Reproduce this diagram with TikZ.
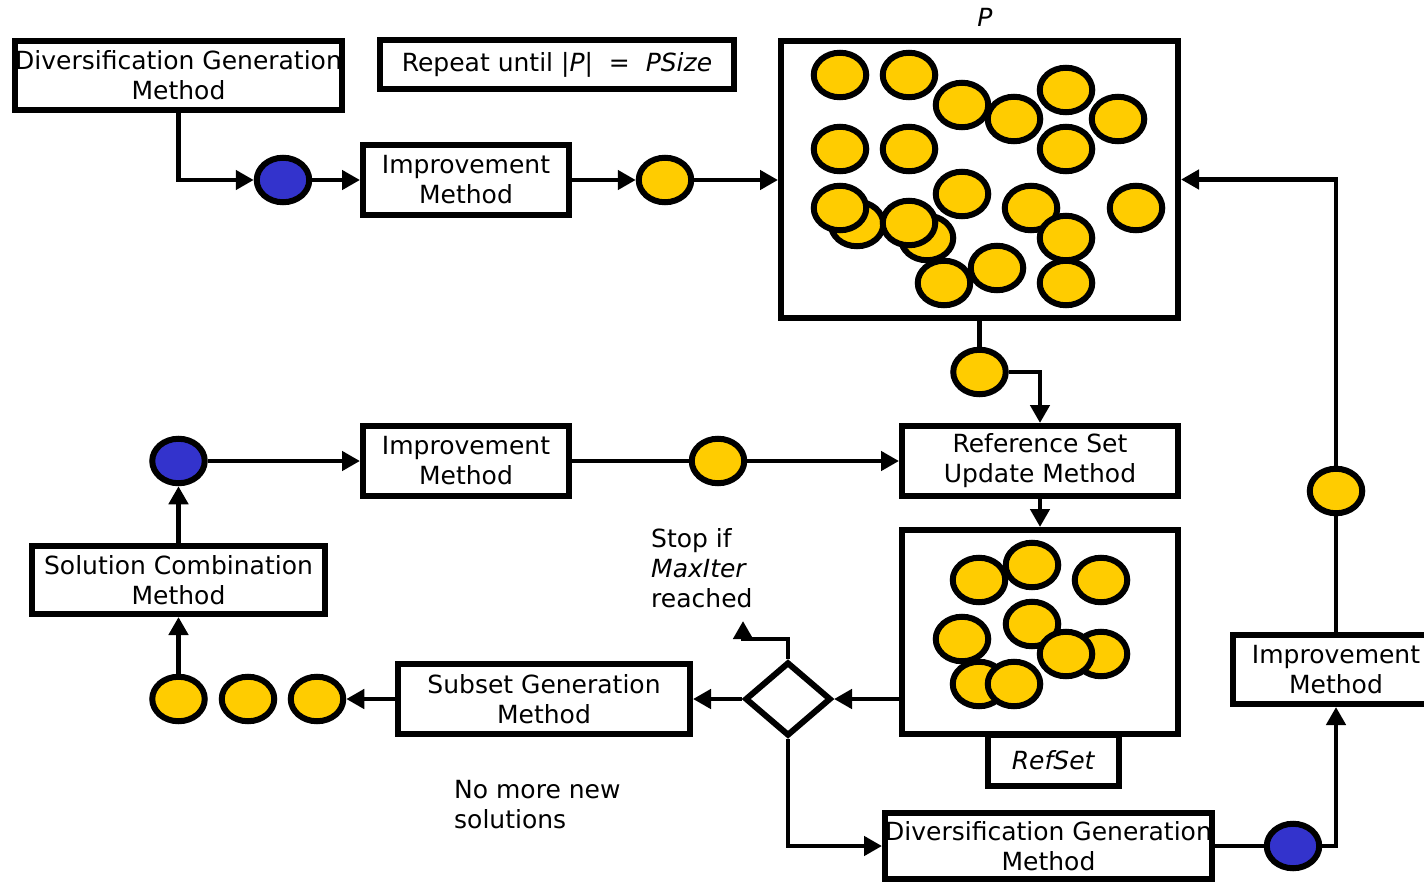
\documentclass[tikz,border=0pt]{standalone}
\usepackage{fontspec}
\setmainfont{DejaVu Sans}
\usetikzlibrary{arrows.meta,shapes.geometric,calc}
\definecolor{solY}{RGB}{255,204,0}
\definecolor{solB}{RGB}{51,51,204}
\begin{document}
\begin{tikzpicture}[x=1pt,y=-1pt,
  every node/.style={font=\fontsize{25}{30}\selectfont},
  box/.style={draw, line width=6pt, rectangle, inner sep=0pt, align=center, fill=white},
  sol/.style={draw, line width=6pt, ellipse, fill=solY, minimum width=52.5pt, minimum height=44.5pt, inner sep=0pt},
  solb/.style={sol, fill=solB},
  conn/.style={line width=4.8pt},
  arr/.style={conn, -{Triangle[length=18pt,width=19pt]}},
  lbl/.style={inner sep=0pt, align=left, anchor=west}
]
\useasboundingbox (0,0) rectangle (1424,883);
\clip (0,0) rectangle (1424,883);

% boxes
\node[box, minimum width=327pt, minimum height=69pt] (dgm1) at (178.5,75.5) {Diversification Generation\\Method};
\node[box, minimum width=354pt, minimum height=49pt] (rep) at (557,64.5) {Repeat until |\textit{P}|\ \ =\ \ \textit{PSize}};
\node[box, minimum width=206pt, minimum height=70pt] (imp1) at (466,180) {Improvement\\Method};
\node[box, minimum width=397pt, minimum height=277pt] (P) at (979.5,179.5) {};
\node[inner sep=0pt] (plabel) at (985,17) {\textit{P}};
\node[box, minimum width=276pt, minimum height=70pt] (rsu) at (1040,461) {Reference Set\\Update Method};
\node[box, minimum width=206pt, minimum height=70pt] (imp2) at (466,461) {Improvement\\Method};
\node[box, minimum width=293pt, minimum height=68pt] (scm) at (178.5,580) {Solution Combination\\Method};
\node[box, minimum width=292pt, minimum height=70pt] (sgm) at (544,699) {Subset Generation\\Method};
\node[box, minimum width=276pt, minimum height=204pt] (refset) at (1040,632) {};
\node[box, minimum width=131pt, minimum height=51pt] (reflabel) at (1053.5,760.5) {\textit{RefSet}};
\node[box, minimum width=327pt, minimum height=66pt] (dgm2) at (1048.5,846) {Diversification Generation\\Method};
\node[box, minimum width=206pt, minimum height=69pt] (imp3) at (1336,669.5) {Improvement\\Method};
\node[draw, line width=6pt, diamond, minimum width=86pt, minimum height=74pt, inner sep=0pt, fill=white] (dia) at (788,699) {};

% free labels
\node[lbl] (stop) at (651,568) {Stop if\\\textit{MaxIter}\\reached};
\node[lbl] (nomore) at (454,804.5) {No more new\\solutions};

% solutions in P
\foreach \x/\y [count=\i] in {840/75, 909/75, 962/105, 1014/119, 1066/90, 1118/119,
  840/149, 909/149, 1066/149, 962/194, 857/224, 840/208, 927/238, 909/223,
  1031/208, 1066/238, 1136/208, 944/283, 997/268, 1066/283}
  \node[sol] (p\i) at (\x,\y) {};

% solutions in RefSet
\foreach \x/\y [count=\i] in {979/580, 1032/565, 1101/580, 962/639, 1032/624,
  1101/654, 1066/654, 979/684, 1014/684}
  \node[sol] (r\i) at (\x,\y) {};

% single solutions
\node[solb] (b1) at (283,180) {};
\node[sol] (y1) at (665,180) {};
\node[sol] (y2) at (979.5,372) {};
\node[solb] (b2) at (178.5,461) {};
\node[sol] (y3) at (718,461) {};
\node[sol] (y4) at (178.5,699) {};
\node[sol] (y5n) at (248,699) {};
\node[sol] (y6) at (317,699) {};
\node[solb] (b3) at (1293,846) {};
\node[sol] (y5) at (1336,491) {};

\coordinate (stopend) at (743,621);

% connectors
\draw[arr] (dgm1.south) |- (b1.west);
\draw[arr] (b1.east) -- (imp1.west);
\draw[arr] (imp1.east) -- (y1.west);
\draw[arr] (y1.east) -- (y1.east -| P.west);
\draw[conn] (P.south) -- (y2.north);
\draw[arr] (y2.east) -| (rsu.north);
\draw[arr] (b2.east) -- (imp2.west);
\draw[conn] (imp2.east) -- (y3.west);
\draw[arr] (y3.east) -- (rsu.west);
\draw[arr] (scm.north) -- (b2.south);
\draw[arr] (y4.north) -- (scm.south);
\draw[arr] (sgm.west) -- (y6.east);
\draw[arr] (dia.west) -- (sgm.east);
\draw[arr] (dia.east -| refset.west) -- (dia.east);
\draw[arr] (rsu.south) -- (refset.north);
\draw[arr] (dia.north) -- ++(0,-20) -| (stopend);
\draw[arr] (dia.south) |- (dgm2.west);
\draw[conn] (dgm2.east) -- (b3.west);
\draw[arr] (b3.east) -| (imp3.south);
\draw[conn] (imp3.north) -- (y5.south);
\draw[arr] (y5.north) |- (P.east);
\end{tikzpicture}
\end{document}
